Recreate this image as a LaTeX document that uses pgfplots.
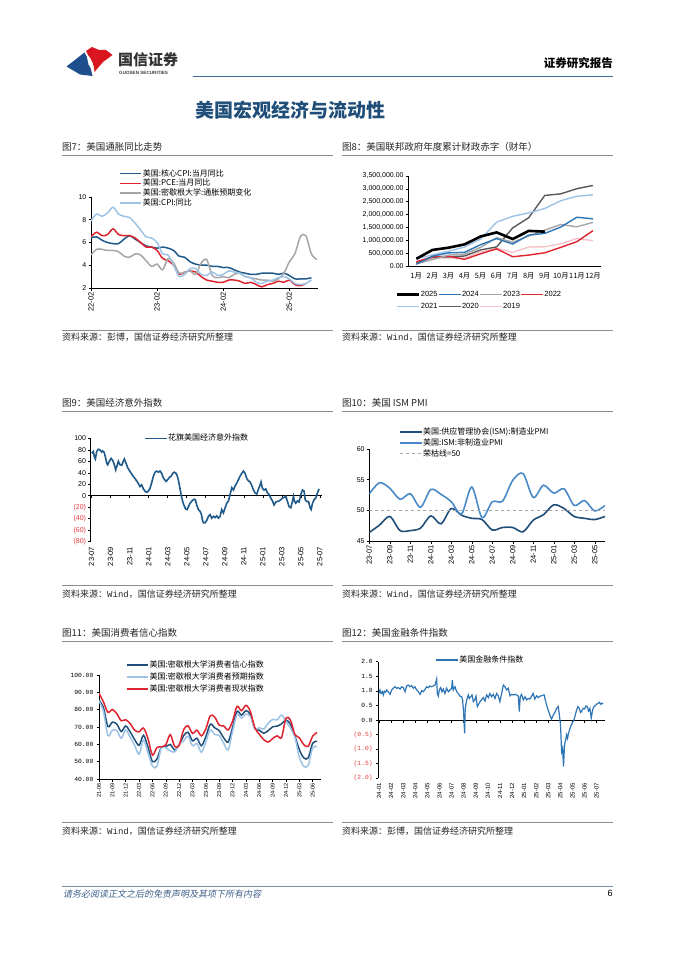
\documentclass[border=0pt]{standalone}
\usepackage{fontspec}
\setmainfont{Noto Sans CJK SC}
\newfontfamily\arial{Liberation Sans}
\newfontfamily\mono{Liberation Mono}
\newfontfamily\cjkit[FakeSlant=0.2]{Noto Sans CJK SC}
\usepackage{pgfplots}
\pgfplotsset{compat=1.18}

\definecolor{hdblue}{HTML}{3D6A96}
\definecolor{headblue}{HTML}{1F4E79}
\definecolor{logoblue}{HTML}{1F4E8C}
\definecolor{logored}{HTML}{D9161F}
\definecolor{footblue}{HTML}{3F5F8A}
\definecolor{rulegray}{HTML}{8C8C8C}
\definecolor{dkblue}{HTML}{1F5A8A}
\definecolor{myred}{HTML}{E0242F}
\definecolor{mygray}{HTML}{A6A6A6}
\definecolor{ltblue}{HTML}{9DC3E6}
\definecolor{midblue}{HTML}{2E75B6}
\definecolor{svblue}{HTML}{4A89C8}
\definecolor{dkgray}{HTML}{595959}
\definecolor{pink}{HTML}{F6C3C8}
\definecolor{negred}{HTML}{E8383D}

\newcommand\titlef{\fontsize{9.5}{11}\selectfont}
\newcommand\srcf{\fontsize{9}{11}\selectfont}
\newcommand\legf{\fontsize{8}{9}\selectfont}
\newcommand\xtf{\arial\fontsize{7.5}{8}\selectfont}
\newcommand\ytf{\arial\fontsize{7}{8}\selectfont}

\pgfplotsset{
  page/.style={
    scale only axis, anchor=south west,
    axis x line*=bottom, axis y line*=left,
    axis line style={black, line width=0.5pt},
    tick style={black, line width=0.5pt},
    tick align=outside, major tick length=2.5pt,
    xticklabel style={font=\xtf, inner sep=1.5pt},
    yticklabel style={font=\ytf, inner sep=2pt},
    scaled ticks=false,
    legend cell align=left,
    legend style={draw=none, fill=none, font=\legf, inner sep=0pt,
      row sep=0pt, nodes={inner sep=0.8pt}},
    legend image code/.code={\draw[##1] (0pt,0pt) -- (21.5pt,0pt);},
  },
  rotx/.style={xticklabel style={rotate=90, anchor=east}},
}

\begin{document}
\begin{tikzpicture}
\path[fill=white] (0,0) rectangle (677pt,-957pt);

% ---------------- header ----------------
\fill[logoblue] (66.5pt,-66.5pt) -- (84.5pt,-52.5pt) .. controls (89pt,-58pt) and (86.5pt,-64pt) .. (90.5pt,-68pt)
  -- (92.5pt,-76pt) -- (80pt,-74.5pt) -- cycle;
\fill[logored] (86pt,-51pt) -- (92pt,-47pt) -- (99pt,-50pt) -- (106pt,-50pt) -- (112.5pt,-55pt)
  -- (103pt,-62pt) -- (94.5pt,-72pt) .. controls (94pt,-64pt) and (91.5pt,-59pt) .. (88pt,-55pt) -- cycle;
\node[anchor=west, inner sep=0pt, text=black!80] at (118pt,-60pt) {\fontsize{15}{16}\selectfont\bfseries 国信证券};
\node[anchor=west, inner sep=0pt, text=black!75] at (119pt,-72.5pt) {\arial\fontsize{4.6}{5}\selectfont\bfseries GUOSEN SECURITIES};
\node[anchor=east, inner sep=0pt] at (613pt,-63pt) {\fontsize{11.5}{12}\selectfont\bfseries 证券研究报告};
\draw[hdblue, line width=1.3pt] (193pt,-76.5pt) -- (613pt,-76.5pt);
\node[anchor=west, inner sep=0pt, text=headblue] at (195pt,-110pt) {\fontsize{19}{20}\selectfont\bfseries 美国宏观经济与流动性};

% ---------------- titles, rules, sources ----------------
\foreach \x/\y/\t in {62/147/{图7：美国通胀同比走势}, 342/147/{图8：美国联邦政府年度累计财政赤字（财年）},
  62/403/{图9：美国经济意外指数}, 342/403/{图10：美国 ISM PMI},
  62/633/{图11：美国消费者信心指数}, 342/633/{图12：美国金融条件指数}}
  {\node[anchor=west, inner sep=0pt, text=black!85] at (\x pt,-\y pt) {\titlef \t};}
\foreach \x in {62,342}{
  \foreach \y in {155,411,641,330,585,822}{
    \draw[rulegray, line width=0.6pt] (\x pt,-\y pt) -- ++(271pt,0);}}
\foreach \x/\y/\t in {62/337/{资料来源：彭博，国信证券经济研究所整理},
  342/337/{资料来源：{\mono Wind}，国信证券经济研究所整理},
  62/594/{资料来源：{\mono Wind}，国信证券经济研究所整理},
  342/594/{资料来源：{\mono Wind}，国信证券经济研究所整理},
  62/831/{资料来源：{\mono Wind}，国信证券经济研究所整理},
  342/831/{资料来源：彭博，国信证券经济研究所整理}}
  {\node[anchor=west, inner sep=0pt, text=black!85] at (\x pt,-\y pt) {\srcf \t};}

% ---------------- footer ----------------
\draw[footblue!70, line width=0.6pt] (62pt,-886pt) -- (613pt,-886pt);
\node[anchor=west, inner sep=0pt, text=footblue] at (63pt,-894pt) {\cjkit\fontsize{9}{10}\selectfont 请务必阅读正文之后的免责声明及其项下所有内容};
\node[inner sep=0pt] at (610pt,-893pt) {\arial\fontsize{9}{10}\selectfont 6};

% ---------------- chart 7 ----------------
\begin{axis}[page, rotx, at={(91pt,-288pt)}, width=227pt, height=91pt,
  xmin=0, xmax=41.2, ymin=2, ymax=10,
  xtick={0,12,24,36}, xticklabels={22-02,23-02,24-02,25-02},
  ytick={2,4,6,8,10}, yticklabels={2,4,6,8,10},
  legend style={at={(0.123,1.315)}, anchor=north west}]
\addplot[dkblue, line width=1.5pt, smooth] coordinates {
(0,6.4)(1,6.5)(2,6.2)(3,6.0)(4,5.9)(5,5.9)(6,6.3)(7,6.6)(8,6.3)(9,6.0)(10,5.7)(11,5.6)
(12,5.5)(13,5.6)(14,5.5)(15,5.3)(16,4.8)(17,4.7)(18,4.3)(19,4.1)(20,4.0)(21,4.0)(22,3.9)(23,3.9)
(24,3.8)(25,3.8)(26,3.6)(27,3.4)(28,3.3)(29,3.2)(30,3.2)(31,3.3)(32,3.3)(33,3.3)(34,3.2)(35,3.3)
(36,3.1)(37,2.8)(38,2.8)(39,2.8)(40,2.9)};
\addlegendentry{美国:核心CPI:当月同比}
\addplot[myred, line width=1.5pt, smooth] coordinates {
(0,6.5)(1,6.9)(2,6.6)(3,6.7)(4,7.2)(5,6.7)(6,6.6)(7,6.6)(8,6.4)(9,6.0)(10,5.6)(11,5.6)
(12,5.3)(13,4.6)(14,4.4)(15,4.0)(16,3.2)(17,3.4)(18,3.5)(19,3.4)(20,3.0)(21,2.7)(22,2.6)(23,2.5)
(24,2.5)(25,2.7)(26,2.7)(27,2.6)(28,2.4)(29,2.5)(30,2.3)(31,2.1)(32,2.3)(33,2.4)(34,2.6)(35,2.5)
(36,2.7)(37,2.3)(38,2.2)(39,2.4)};
\addlegendentry{美国:PCE:当月同比}
\addplot[mygray, line width=1.5pt, smooth] coordinates {
(0,4.9)(1,5.4)(2,5.4)(3,5.3)(4,5.3)(5,5.2)(6,4.8)(7,4.7)(8,5.0)(9,4.9)(10,4.4)(11,3.9)
(12,4.1)(13,3.6)(14,4.6)(15,4.2)(16,3.3)(17,3.4)(18,3.5)(19,3.2)(20,4.2)(21,4.5)(22,3.1)(23,2.9)
(24,3.0)(25,2.9)(26,3.2)(27,3.3)(28,3.0)(29,2.9)(30,2.8)(31,2.7)(32,2.7)(33,2.6)(34,2.8)(35,3.3)
(36,4.3)(37,5.0)(38,6.5)(39,6.6)(40,5.0)(41,4.5)};
\addlegendentry{美国:密歇根大学:通胀预期变化}
\addplot[ltblue, line width=1.5pt, smooth] coordinates {
(0,7.9)(1,8.5)(2,8.3)(3,8.6)(4,9.1)(5,8.5)(6,8.3)(7,8.2)(8,7.7)(9,7.1)(10,6.5)(11,6.4)
(12,6.0)(13,5.0)(14,4.9)(15,4.0)(16,3.0)(17,3.2)(18,3.7)(19,3.7)(20,3.2)(21,3.1)(22,3.4)(23,3.1)
(24,3.2)(25,3.5)(26,3.4)(27,3.3)(28,3.0)(29,2.9)(30,2.5)(31,2.4)(32,2.6)(33,2.7)(34,2.9)(35,3.0)
(36,2.8)(37,2.4)(38,2.3)(39,2.4)(40,2.7)};
\addlegendentry{美国:CPI:同比}
\end{axis}

% ---------------- chart 8 ----------------
\begin{axis}[page, at={(408.3pt,-266pt)}, width=192.7pt, height=90pt,
  xmin=0.5, xmax=12.5, ymin=0, ymax=3500000,
  xtick={1,...,12}, xtick style={draw=none},
  xticklabels={1月,2月,3月,4月,5月,6月,7月,8月,9月,10月,11月,12月},
  xticklabel style={font=\fontsize{7.3}{8}\selectfont, inner sep=1pt, yshift=-3pt},
  ytick={0,500000,1000000,1500000,2000000,2500000,3000000,3500000},
  yticklabels={{0.00},{500,000.00},{1,000,000.00},{1,500,000.00},{2,000,000.00},{2,500,000.00},{3,000,000.00},{3,500,000.00}},
  reverse legend, legend columns=4,
  legend style={at={(-0.065,-0.267)}, anchor=north west, font=\arial\fontsize{7.5}{8}\selectfont, row sep=4pt}]
\addplot[pink, line width=1.4pt] coordinates {
(1,100000)(2,305000)(3,319000)(4,310000)(5,544000)(6,691000)(7,531000)(8,739000)(9,747000)(10,867000)(11,1067000)(12,984000)};
\addlegendentry{2019}
\addplot[dkgray, line width=1.4pt] coordinates {
(1,134000)(2,343000)(3,357000)(4,389000)(5,624000)(6,743000)(7,1481000)(8,1880000)(9,2744000)(10,2807000)(11,3007000)(12,3132000)};
\addlegendentry{2020}
\addplot[ltblue, line width=1.4pt] coordinates {
(1,284000)(2,429000)(3,573000)(4,736000)(5,1047000)(6,1706000)(7,1932000)(8,2064000)(9,2238000)(10,2540000)(11,2711000)(12,2772000)};
\addlegendentry{2021}
\addplot[myred, line width=1.4pt] coordinates {
(1,165000)(2,356000)(3,377000)(4,259000)(5,475000)(6,668000)(7,360000)(8,426000)(9,515000)(10,726000)(11,946000)(12,1375000)};
\addlegendentry{2022}
\addplot[mygray, line width=1.4pt] coordinates {
(1,88000)(2,249000)(3,421000)(4,460000)(5,722000)(6,1100000)(7,925000)(8,1165000)(9,1393000)(10,1614000)(11,1525000)(12,1695000)};
\addlegendentry{2023}
\addplot[midblue, line width=1.4pt] coordinates {
(1,67000)(2,381000)(3,510000)(4,532000)(5,828000)(6,1065000)(7,855000)(8,1202000)(9,1268000)(10,1516000)(11,1897000)(12,1833000)};
\addlegendentry{2024}
\addplot[black, line width=2.6pt] coordinates {
(1,280000)(2,624000)(3,711000)(4,840000)(5,1147000)(6,1307000)(7,1049000)(8,1365000)(9,1337000)};
\addlegendentry{2025}
\end{axis}

% ---------------- chart 9 ----------------
\begin{axis}[page, rotx, axis x line*=middle, xticklabel shift=47pt, hide obscured x ticks=false,
  at={(90.7pt,-541.7pt)}, width=231pt, height=103.4pt,
  xmin=-0.1, xmax=24.2, ymin=-80, ymax=100,
  xtick={0,2,...,24},
  xticklabels={23-07,23-09,23-11,24-01,24-03,24-05,24-07,24-09,24-11,25-01,25-03,25-05,25-07},
  ytick={-80,-60,-40,-20,0,20,40,60,80,100},
  yticklabels={\textcolor{negred}{(80)},\textcolor{negred}{(60)},\textcolor{negred}{(40)},\textcolor{negred}{(20)},0,20,40,60,80,100},
  legend style={at={(0.231,1.0)}, anchor=west}]
\addplot[dkblue, line width=1.6pt] coordinates {
(0,74)(0.18,77)(0.28,68)(0.39,64)(0.53,77)(0.7,81)(0.88,80)(1.05,76)(1.16,78)(1.3,76)(1.44,68)
(1.58,57)(1.68,54)(1.86,60)(2.04,65)(2.21,62)(2.39,54)(2.53,45)(2.7,54)(2.81,60)(2.98,54)(3.16,53)
(3.33,60)(3.44,64)(3.61,57)(3.79,49)(4.04,42)(4.32,35)(4.56,30)(4.81,24)(5.09,16)(5.26,19)(5.44,12)
(5.61,8)(5.79,6)(5.96,8)(6.14,13)(6.32,23)(6.49,34)(6.67,41)(6.84,43)(7.02,41)(7.19,43)(7.37,39)
(7.54,31)(7.82,25)(8.0,28)(8.18,32)(8.35,34)(8.53,39)(8.7,41)(8.88,39)(9.02,34)(9.16,24)(9.3,12)
(9.44,-1)(9.58,-10)(9.72,-17)(9.89,-23)(10.04,-24)(10.18,-19)(10.35,-13)(10.56,-9)(10.77,-6)(10.91,-7)
(11.05,-16)(11.23,-24)(11.4,-27)(11.54,-32)(11.65,-42)(11.75,-47)(11.93,-47)(12.11,-43)(12.28,-36)
(12.46,-33)(12.63,-39)(12.81,-36)(12.98,-38)(13.16,-35)(13.33,-39)(13.51,-36)(13.68,-24)(13.86,-30)
(14.04,-21)(14.21,-13)(14.39,-9)(14.56,2)(14.74,14)(14.91,10)(15.09,17)(15.26,22)(15.44,28)(15.61,34)
(15.79,39)(15.96,43)(16.14,39)(16.32,30)(16.49,26)(16.67,24)(16.84,18)(17.02,10)(17.19,5)(17.37,3)
(17.47,8)(17.65,16)(17.82,24)(17.96,13)(18.14,10)(18.32,12)(18.49,5)(18.67,2)(18.84,-4)(19.02,-9)
(19.19,-16)(19.37,-11)(19.54,-10)(19.72,-9)(19.89,-7)(20.07,-4)(20.25,-3)(20.42,-1)(20.6,-10)
(20.77,-19)(20.95,-21)(21.12,-10)(21.23,-1)(21.33,-9)(21.47,-13)(21.65,-9)(21.82,-11)(22.0,2)
(22.18,10)(22.35,8)(22.46,-7)(22.63,-10)(22.81,-10)(22.98,-21)(23.09,-24)(23.23,-13)(23.4,-7)
(23.58,-4)(23.75,5)(23.93,12)};
\addlegendentry{花旗美国经济意外指数}
\end{axis}

% ---------------- chart 10 ----------------
\begin{axis}[page, rotx, at={(369.3pt,-541pt)}, width=235.7pt, height=92pt,
  xmin=0, xmax=23, ymin=45, ymax=60,
  xtick={0,2,...,22},
  xticklabels={23-07,23-09,23-11,24-01,24-03,24-05,24-07,24-09,24-11,25-01,25-03,25-05},
  ytick={45,50,55,60}, yticklabels={45,50,55,60},
  legend style={at={(0.126,1.242)}, anchor=north west, row sep=1pt}]
\addplot[headblue, line width=1.6pt, smooth] coordinates {
(0,46.4)(1,47.6)(2,49.0)(3,46.7)(4,46.7)(5,47.1)(6,49.1)(7,47.8)(8,50.3)(9,49.2)(10,48.7)(11,48.5)
(12,46.8)(13,47.2)(14,47.2)(15,46.5)(16,48.4)(17,49.3)(18,50.9)(19,50.3)(20,49.0)(21,48.7)(22,48.5)(23,49.0)};
\addlegendentry{美国:供应管理协会(ISM):制造业PMI}
\addplot[svblue, line width=1.6pt, smooth] coordinates {
(0,52.7)(1,54.5)(2,53.6)(3,51.8)(4,52.7)(5,50.5)(6,53.4)(7,52.6)(8,51.4)(9,49.4)(10,53.8)(11,48.8)
(12,51.4)(13,51.5)(14,54.9)(15,56.0)(16,52.1)(17,54.1)(18,52.8)(19,53.5)(20,50.8)(21,51.6)(22,49.9)(23,50.8)};
\addlegendentry{美国:ISM:非制造业PMI}
\addplot[mygray, line width=1.2pt, dashed] coordinates {(0,50)(23,50)};
\addlegendentry{荣枯线=50}
\end{axis}

% ---------------- chart 11 ----------------
\begin{axis}[page, rotx, at={(99pt,-779pt)}, width=221.7pt, height=104pt,
  xmin=0, xmax=49.8, ymin=40, ymax=100,
  xtick={0,3,...,48},
  xticklabels={21-06,21-09,21-12,22-03,22-06,22-09,22-12,23-03,23-06,23-09,23-12,24-03,24-06,24-09,24-12,25-03,25-06},
  xticklabel style={font=\arial\fontsize{5.6}{6}\selectfont},
  ytick={40,50,60,70,80,90,100},
  yticklabels={40.00,50.00,60.00,70.00,80.00,90.00,100.00},
  yticklabel style={font=\mono\fontsize{6.3}{7}\selectfont, inner sep=3pt},
  legend style={at={(0.12,1.144)}, anchor=north west, row sep=2pt}]
\addplot[headblue, line width=1.5pt, smooth] coordinates {
(0,85.5)(1,81.2)(2,70.3)(3,72.8)(4,71.7)(5,67.4)(6,70.6)(7,67.2)(8,62.8)(9,59.4)(10,65.2)(11,58.4)
(12,50.0)(13,51.5)(14,58.2)(15,58.6)(16,59.9)(17,56.8)(18,59.7)(19,64.9)(20,67.0)(21,62.0)(22,63.5)(23,59.2)
(24,64.4)(25,71.6)(26,69.5)(27,67.9)(28,63.8)(29,61.3)(30,69.7)(31,79.0)(32,76.9)(33,79.4)(34,77.2)(35,69.1)
(36,68.2)(37,66.4)(38,67.9)(39,70.1)(40,70.5)(41,71.8)(42,74.0)(43,71.7)(44,64.7)(45,57.0)(46,52.2)(47,52.2)
(48,60.7)(49,61.7)};
\addlegendentry{美国:密歇根大学消费者信心指数}
\addplot[ltblue, line width=1.5pt, smooth] coordinates {
(0,85.0)(1,79.0)(2,65.1)(3,68.1)(4,67.9)(5,63.5)(6,68.3)(7,64.1)(8,59.4)(9,54.3)(10,62.5)(11,55.2)
(12,47.5)(13,47.3)(14,58.0)(15,58.0)(16,56.2)(17,55.6)(18,59.9)(19,62.0)(20,64.7)(21,59.2)(22,60.5)(23,55.4)
(24,61.5)(25,68.3)(26,65.7)(27,65.1)(28,60.7)(29,56.8)(30,67.4)(31,77.1)(32,75.2)(33,77.4)(34,76.0)(35,68.8)
(36,69.6)(37,68.8)(38,72.1)(39,74.4)(40,74.1)(41,76.9)(42,73.3)(43,69.3)(44,64.0)(45,52.6)(46,47.3)(47,47.9)
(48,58.1)(49,58.6)};
\addlegendentry{美国:密歇根大学消费者预期指数}
\addplot[myred, line width=1.5pt, smooth] coordinates {
(0,89.5)(1,84.5)(2,78.5)(3,80.1)(4,77.7)(5,73.6)(6,74.2)(7,72.0)(8,68.2)(9,67.2)(10,69.4)(11,63.3)
(12,53.8)(13,58.1)(14,58.6)(15,59.7)(16,65.6)(17,58.8)(18,59.4)(19,68.4)(20,70.7)(21,66.3)(22,68.2)(23,64.9)
(24,68.9)(25,76.6)(26,75.7)(27,71.1)(28,70.6)(29,68.3)(30,73.3)(31,81.9)(32,79.4)(33,82.5)(34,79.0)(35,69.6)
(36,65.9)(37,62.7)(38,61.3)(39,63.3)(40,64.9)(41,63.9)(42,75.1)(43,74.0)(44,65.7)(45,63.8)(46,59.8)(47,58.9)
(48,64.8)(49,66.8)};
\addlegendentry{美国:密歇根大学消费者现状指数}
\end{axis}

% ---------------- chart 12 ----------------
\begin{axis}[page, rotx, axis x line*=middle, xticklabel shift=59pt, hide obscured x ticks=false,
  at={(378.3pt,-778.3pt)}, width=226.7pt, height=116.6pt,
  xmin=-0.06, xmax=18.69, ymin=-2, ymax=2,
  xtick={0,...,18},
  xticklabels={24-01,24-02,24-03,24-04,24-05,24-06,24-07,24-08,24-09,24-10,24-11,24-12,25-01,25-02,25-03,25-04,25-05,25-06,25-07},
  xticklabel style={font=\arial\fontsize{6}{7}\selectfont},
  ytick={-2,-1.5,-1,-0.5,0,0.5,1,1.5,2},
  yticklabels={\textcolor{negred}{(2.0)},\textcolor{negred}{(1.5)},\textcolor{negred}{(1.0)},\textcolor{negred}{(0.5)},0.0,0.5,1.0,1.5,2.0},
  yticklabel style={font=\mono\fontsize{6.3}{7}\selectfont, inner sep=3pt},
  legend style={at={(0.253,1.015)}, anchor=west}]
\addplot[midblue, line width=1.2pt] coordinates {
(0,0.91)(0.08,1.03)(0.17,0.91)(0.28,0.97)(0.36,0.86)(0.44,0.99)(0.55,0.95)(0.63,1.03)(0.77,0.97)(0.91,0.88)
(1.05,1.03)(1.18,1.09)(1.32,1.14)(1.46,1.09)(1.6,1.11)(1.74,1.06)(1.87,1.14)(2.01,1.11)(2.15,0.97)(2.29,1.17)
(2.42,1.2)(2.56,1.14)(2.7,1.18)(2.84,1.09)(2.98,1.14)(3.11,1.03)(3.25,0.97)(3.39,0.88)(3.53,1.01)(3.66,0.97)
(3.8,1.05)(3.94,1.14)(4.08,1.11)(4.21,1.17)(4.35,1.14)(4.49,1.17)(4.63,1.2)(4.77,1.41)(4.82,0.91)(4.9,0.82)
(4.99,1.03)(5.1,1.11)(5.21,0.97)(5.32,1.06)(5.45,0.91)(5.59,1.09)(5.73,0.97)(5.87,1.03)(6.01,1.09)(6.06,1.37)
(6.14,1.03)(6.28,1.14)(6.42,0.97)(6.56,0.91)(6.69,0.82)(6.83,0.8)(6.91,0.69)(7.0,0.23)(7.08,-0.46)(7.13,0.4)
(7.25,0.69)(7.38,0.86)(7.47,0.74)(7.58,0.8)(7.69,0.86)(7.8,0.63)(7.91,0.69)(8.02,0.82)(8.13,0.46)(8.24,0.54)
(8.35,0.63)(8.48,0.69)(8.62,0.77)(8.76,0.65)(8.9,0.86)(9.04,0.77)(9.17,0.91)(9.31,0.8)(9.45,0.88)(9.59,0.74)
(9.72,0.91)(9.86,0.83)(10.0,0.63)(10.14,0.91)(10.28,1.2)(10.41,1.14)(10.55,1.03)(10.69,1.09)(10.83,0.83)
(10.96,0.88)(11.1,0.86)(11.24,0.88)(11.38,0.86)(11.52,0.82)(11.6,0.29)(11.68,0.8)(11.79,0.88)(11.93,0.69)
(12.07,0.8)(12.2,0.69)(12.34,0.74)(12.48,0.72)(12.62,0.82)(12.75,0.91)(12.89,0.72)(13.03,0.83)(13.17,0.77)
(13.31,0.82)(13.44,0.83)(13.58,0.86)(13.66,0.86)(13.75,0.69)(13.86,0.51)(13.99,0.34)(14.13,0.17)(14.27,0.03)
(14.41,0.17)(14.55,0.26)(14.68,0.4)(14.82,0.46)(14.9,0.23)(15.01,-0.17)(15.1,-1.09)(15.18,-0.97)(15.26,-1.6)
(15.34,-0.86)(15.43,-0.69)(15.51,-0.51)(15.59,-0.63)(15.67,-0.46)(15.79,-0.29)(15.9,-0.17)(16.01,-0.08)
(16.12,0)(16.23,0.17)(16.34,0.34)(16.45,0.46)(16.56,0.4)(16.67,0.26)(16.78,0.31)(16.89,0.4)(17.0,0.38)
(17.11,0.48)(17.22,0.46)(17.33,0.31)(17.44,0.4)(17.55,0.06)(17.66,0.34)(17.77,0.46)(17.88,0.49)(17.99,0.54)
(18.1,0.57)(18.21,0.61)(18.32,0.54)(18.43,0.58)(18.54,0.54)};
\addlegendentry{美国金融条件指数}
\end{axis}
\end{tikzpicture}
\end{document}
